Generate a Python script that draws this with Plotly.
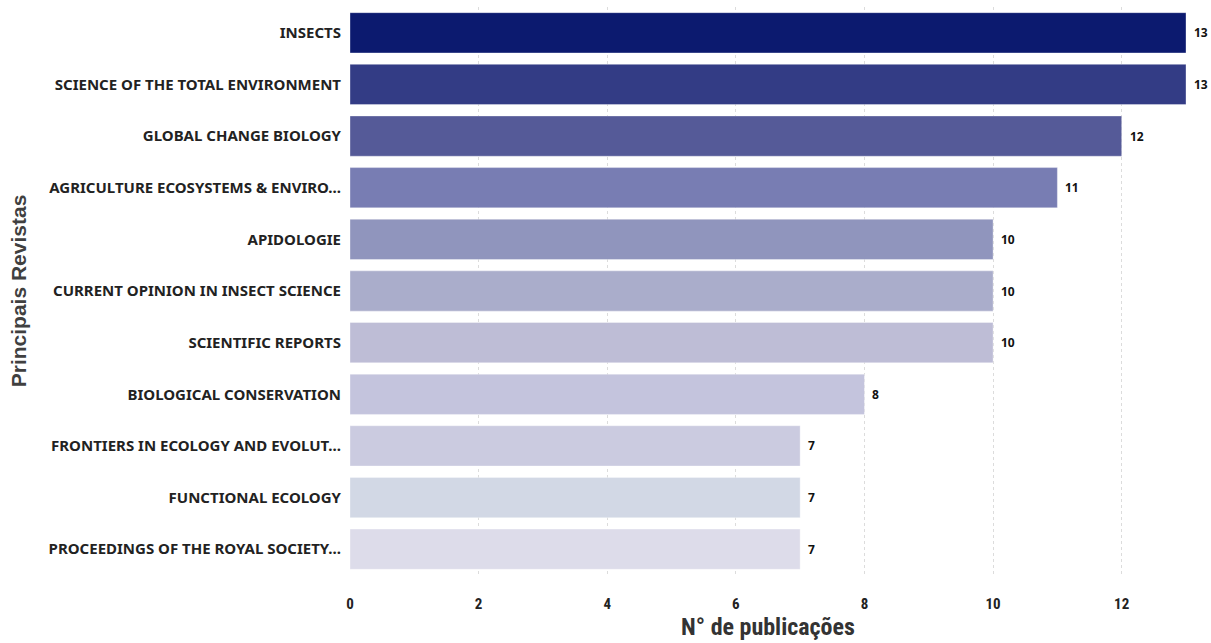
import plotly.graph_objects as go

journals = [
    "INSECTS",
    "SCIENCE OF THE TOTAL ENVIRONMENT",
    "GLOBAL CHANGE BIOLOGY",
    "AGRICULTURE ECOSYSTEMS & ENVIRO...",
    "APIDOLOGIE",
    "CURRENT OPINION IN INSECT SCIENCE",
    "SCIENTIFIC REPORTS",
    "BIOLOGICAL CONSERVATION",
    "FRONTIERS IN ECOLOGY AND EVOLUT...",
    "FUNCTIONAL ECOLOGY",
    "PROCEEDINGS OF THE ROYAL SOCIETY...",
]
publications = [13, 13, 12, 11, 10, 10, 10, 8, 7, 7, 7]
bar_colors = [
    "#0c1a6f", "#333c85", "#555a98", "#787db3", "#9095bd", "#aaadcb",
    "#bebdd6", "#c4c4dd", "#cbcbe0", "#d2d8e5", "#dddcea",
]
x_ticks = [0, 2, 4, 6, 8, 10, 12]

fig = go.Figure(
    go.Bar(
        x=publications,
        y=journals,
        orientation="h",
        marker=dict(color=bar_colors, line=dict(color="rgba(255,255,255,0.35)", width=1)),
        cliponaxis=False,
    )
)

for j, v in zip(journals, publications):
    fig.add_annotation(
        x=v, y=j, text=str(v), showarrow=False,
        xanchor="left", xshift=6,
        font=dict(family="Noto Sans", size=12, color="#111111", weight="bold"),
    )

fig.update_layout(
    width=1211,
    height=643,
    margin=dict(l=350, r=25, t=7, b=68),
    plot_bgcolor="white",
    paper_bgcolor="white",
    bargap=0.22,
    showlegend=False,
    xaxis=dict(
        range=[0, 13],
        tickvals=x_ticks,
        showgrid=True,
        gridcolor="#dcdcdc",
        griddash="dot",
        gridwidth=1,
        zeroline=False,
        showline=False,
        layer="above traces",
        automargin=False,
        ticklen=0,
        ticklabelstandoff=18,
        tickfont=dict(family="Roboto Condensed, Roboto", size=15, color="#222222", weight="bold"),
        title=dict(
            text="N° de publicações",
            font=dict(family="Roboto Condensed, Roboto", size=24, color="#333333", weight="bold"),
            standoff=6,
        ),
    ),
    yaxis=dict(
        categoryorder="array",
        categoryarray=journals[::-1],
        showgrid=False,
        zeroline=False,
        ticklen=0,
        ticklabelstandoff=8,
        tickfont=dict(family="Noto Sans", size=15, color="#222222", weight="bold"),
        title=dict(
            text="Principais Revistas",
            font=dict(family="Liberation Sans", size=21, color="#404040", weight="bold"),
            standoff=16,
        ),
    ),
)

fig.write_html("out.html")
